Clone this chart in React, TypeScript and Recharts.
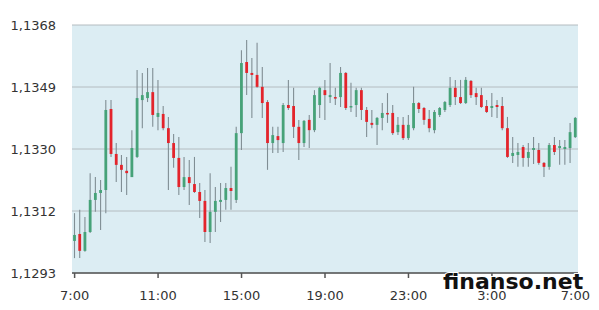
import React from 'react';
import { ComposedChart, Bar, XAxis, YAxis, CartesianGrid } from 'recharts';

// 15-minute EUR/USD candles, 7:00 -> 7:00
const opens = [
  1.13027, 1.13048, 1.12997, 1.13054, 1.13151, 1.13172, 1.13181, 1.13426, 1.1329, 1.13257,
  1.13239, 1.1322, 1.13281, 1.13453, 1.13459, 1.13477, 1.13402, 1.13411, 1.13368, 1.13323,
  1.13278, 1.1319, 1.1322, 1.13199, 1.13175, 1.13148, 1.13054, 1.13115, 1.13145, 1.13151,
  1.13187, 1.13151, 1.13353, 1.13568, 1.13535, 1.13529, 1.13493, 1.13447, 1.13323, 1.13344,
  1.13323, 1.13438, 1.13435, 1.13372, 1.13323, 1.13393, 1.13362, 1.13438, 1.13483, 1.13462,
  1.13462, 1.13462, 1.13535, 1.13432, 1.13438, 1.13483, 1.13423, 1.13384, 1.13378, 1.13399,
  1.13414, 1.13414, 1.13356, 1.13378, 1.13338, 1.13368, 1.13444, 1.13429, 1.13396, 1.13362,
  1.13408, 1.13423, 1.13438, 1.1349, 1.13462, 1.13444, 1.13511, 1.13474, 1.13468, 1.13435,
  1.13429, 1.13438, 1.13435, 1.13368, 1.13284, 1.13287, 1.13311, 1.13278, 1.13302, 1.13302,
  1.13263, 1.13251, 1.13317, 1.13308, 1.13305, 1.13308, 1.13341,
];
const highs = [
  1.13111, 1.13121, 1.13099, 1.13232, 1.1322, 1.13211, 1.13453, 1.13453, 1.13323, 1.13287,
  1.13281, 1.13362, 1.13544, 1.13535, 1.1355, 1.1355, 1.13514, 1.13435, 1.13402, 1.1335,
  1.13341, 1.13281, 1.13272, 1.13281, 1.13202, 1.13181, 1.13232, 1.1319, 1.13202, 1.13202,
  1.13251, 1.13372, 1.13604, 1.13635, 1.1358, 1.13626, 1.13553, 1.13453, 1.13372, 1.13372,
  1.13444, 1.13514, 1.1349, 1.13393, 1.13393, 1.13408, 1.13483, 1.13493, 1.13514, 1.13565,
  1.1349, 1.13553, 1.13538, 1.13505, 1.1349, 1.1349, 1.13432, 1.13423, 1.13402, 1.13444,
  1.13474, 1.13438, 1.13402, 1.13402, 1.13408, 1.13493, 1.13447, 1.13432, 1.13423, 1.13423,
  1.13432, 1.1345, 1.13523, 1.13514, 1.13514, 1.13523, 1.13514, 1.1349, 1.1349, 1.13453,
  1.13474, 1.13453, 1.13462, 1.13402, 1.13341, 1.13323, 1.13317, 1.13323, 1.13341, 1.13323,
  1.13266, 1.13323, 1.13341, 1.13332, 1.13332, 1.13384, 1.13402,
];
const lows = [
  1.12975, 1.12975, 1.12994, 1.13051, 1.13115, 1.1306, 1.13111, 1.13281, 1.13205, 1.13175,
  1.13166, 1.1322, 1.13278, 1.13368, 1.13447, 1.13372, 1.13362, 1.13362, 1.13181, 1.13248,
  1.13166, 1.13181, 1.13136, 1.13172, 1.13096, 1.13024, 1.13021, 1.13054, 1.13084, 1.13121,
  1.13121, 1.13142, 1.13302, 1.13468, 1.13399, 1.1349, 1.13399, 1.13242, 1.13293, 1.13293,
  1.13296, 1.13423, 1.13338, 1.13272, 1.13311, 1.13308, 1.13356, 1.13399, 1.13393, 1.13444,
  1.13438, 1.13432, 1.13423, 1.13417, 1.13402, 1.13393, 1.13341, 1.13368, 1.13317, 1.13362,
  1.13384, 1.13347, 1.13347, 1.13332, 1.13332, 1.13362, 1.13414, 1.13378, 1.13356, 1.13353,
  1.13402, 1.13417, 1.13432, 1.13438, 1.13441, 1.13441, 1.13459, 1.13438, 1.13429, 1.13414,
  1.13402, 1.13399, 1.13362, 1.13278, 1.13263, 1.13251, 1.13251, 1.13251, 1.1326, 1.13257,
  1.1322, 1.13242, 1.13287, 1.13257, 1.13257, 1.13263, 1.13338,
];
const closes = [
  1.13045, 1.12997, 1.13054, 1.13151, 1.13172, 1.13181, 1.13423, 1.1329, 1.13257, 1.13242,
  1.13232, 1.13308, 1.13459, 1.13468, 1.13477, 1.13408, 1.13414, 1.13368, 1.13323, 1.13278,
  1.1319, 1.1322, 1.13202, 1.13175, 1.13148, 1.13054, 1.13115, 1.13148, 1.13151, 1.13187,
  1.13178, 1.13353, 1.13565, 1.13535, 1.13529, 1.13493, 1.13444, 1.13323, 1.13347, 1.13332,
  1.13438, 1.13429, 1.13372, 1.13323, 1.1339, 1.13362, 1.13468, 1.1349, 1.13468, 1.13468,
  1.13459, 1.13535, 1.13429, 1.13435, 1.13483, 1.13423, 1.13387, 1.13378, 1.13399, 1.13414,
  1.13411, 1.13353, 1.13378, 1.13338, 1.13378, 1.13444, 1.13426, 1.13393, 1.13368, 1.13417,
  1.13429, 1.13447, 1.1349, 1.13462, 1.13444, 1.13514, 1.13468, 1.13462, 1.13432, 1.13417,
  1.13435, 1.13432, 1.13368, 1.13281, 1.13293, 1.13296, 1.13278, 1.13296, 1.13308, 1.13263,
  1.13251, 1.13317, 1.13296, 1.13314, 1.13311, 1.13356, 1.13399,
];

const yTicks = [1.1293, 1.131175, 1.13305, 1.134925, 1.1368];
const yTickLabels = ['1,1293', '1,1312', '1,1330', '1,1349', '1,1368'];
const xTicks = [0, 240, 480, 720, 960, 1200, 1440];
const xTickLabels = ['7:00', '11:00', '15:00', '19:00', '23:00', '3:00', '7:00'];

const data = opens.map((open, i) => ({
  m: i * 15,
  open,
  high: highs[i],
  low: lows[i],
  close: closes[i],
  range: [lows[i], highs[i]],
}));

const Candle = (props: any) => {
  const { x, y, width, height, payload } = props;
  const { open, close, high, low } = payload;
  const top = Math.min(y, y + height);
  const h = Math.abs(height);
  const k = h / (high - low);
  const cx = x + width / 2;
  const yo = top + (high - open) * k;
  const yc = top + (high - close) * k;
  const up = close >= open;
  const bodyTop = Math.min(yo, yc);
  const bodyH = Math.max(Math.abs(yo - yc), 1.5);
  return (
    <g>
      <line x1={cx} x2={cx} y1={top} y2={top + h} stroke="#808e94" strokeWidth={1.1} />
      <rect x={cx - 1.4} y={bodyTop} width={2.8} height={bodyH} fill={up ? '#46a278' : '#e3242b'} />
    </g>
  );
};

export default function App() {
  return (
    <div style={{ position: 'absolute', left: 0, top: 0, width: 599, height: 310, background: '#fff' }}>
      <ComposedChart width={599} height={310} data={data} margin={{ top: 25, right: 21, bottom: 0, left: 0 }}>
        <CartesianGrid vertical={false} stroke="#b4bcc0" fill="#dcedf3" fillOpacity={1} />
        <XAxis
          dataKey="m"
          type="category"
          ticks={xTicks}
          interval={0}
          tickFormatter={(v: number) => xTickLabels[xTicks.indexOf(v)]}
          axisLine={{ stroke: '#555', strokeWidth: 1.5 }}
          tickLine={{ stroke: '#555', strokeWidth: 1.5 }}
          tickSize={5}
          tickMargin={13}
          height={37}
          tick={{ fill: '#333', fontSize: 13, fontFamily: 'DejaVu Sans' }}
        />
        <YAxis
          domain={[1.1293, 1.1368]}
          ticks={yTicks}
          interval={0}
          tickFormatter={(_v: number, i: number) => yTickLabels[i]}
          axisLine={false}
          tickLine={false}
          tickSize={14}
          tickMargin={2}
          width={72}
          tick={{ fill: '#333', fontSize: 13, fontFamily: 'DejaVu Sans' }}
        />
        <Bar dataKey="range" barSize={3} shape={Candle} isAnimationActive={false} />
      </ComposedChart>
      <svg width={599} height={310} style={{ position: 'absolute', left: 0, top: 0, pointerEvents: 'none' }}>
        <text
          x={443}
          y={289}
          fontFamily="DejaVu Sans"
          fontWeight="bold"
          fontSize={22}
          fill="#111"
          stroke="#fff"
          strokeWidth={2}
          paintOrder="stroke"
        >
          finanso.net
        </text>
      </svg>
    </div>
  );
}
